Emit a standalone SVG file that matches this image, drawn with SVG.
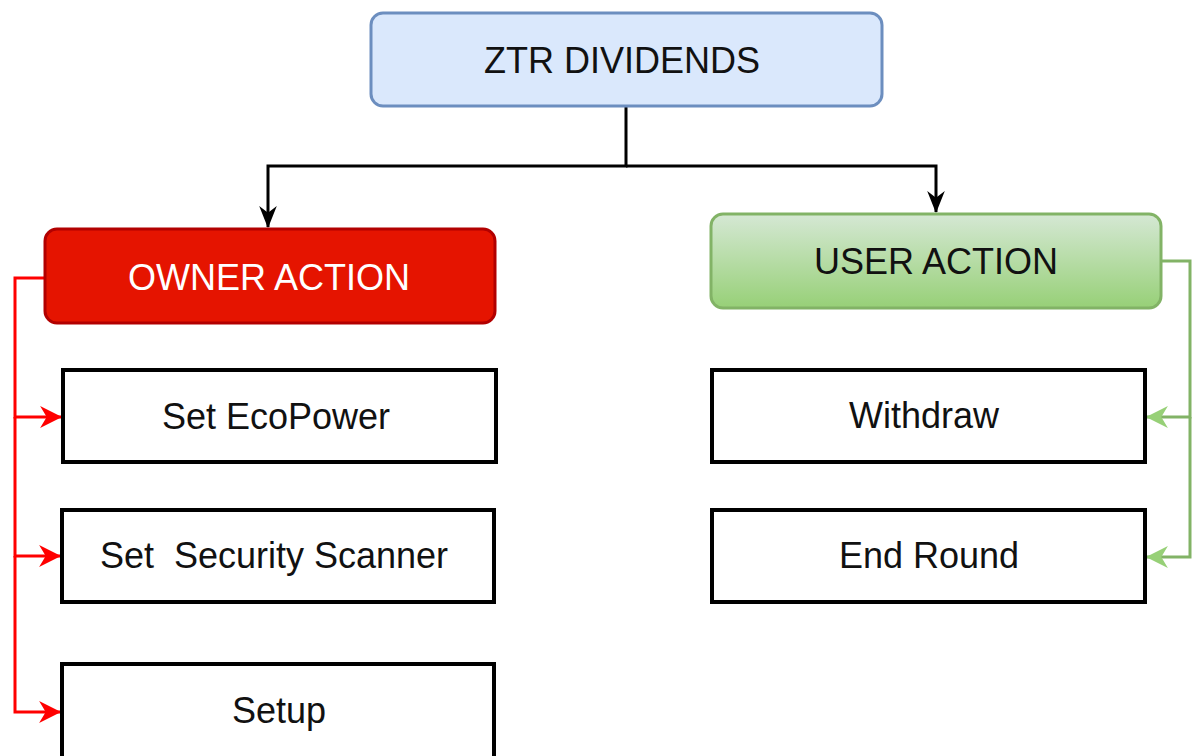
<svg xmlns="http://www.w3.org/2000/svg" width="1202" height="756" viewBox="0 0 1202 756">
<style>
text{font-family:"Liberation Sans",Arial,sans-serif;font-size:36px;text-anchor:middle;fill:#111}
.box{fill:#fff;stroke:#000;stroke-width:4}
.c{fill:none;stroke-width:3}
</style>
<defs>
<linearGradient id="g" x1="0" y1="0" x2="0" y2="1"><stop offset="0" stop-color="#d5e8d4"/><stop offset="1" stop-color="#97d077"/></linearGradient>
<marker id="ar" viewBox="0 0 10 10" refX="9.5" refY="5" markerWidth="22" markerHeight="22" orient="auto" markerUnits="userSpaceOnUse"><path d="M0,0 L10,5 L0,10 L3,5z" fill="#ff0000"/></marker>
<marker id="ag" viewBox="0 0 10 10" refX="9.5" refY="5" markerWidth="22" markerHeight="22" orient="auto" markerUnits="userSpaceOnUse"><path d="M0,0 L10,5 L0,10 L3,5z" fill="#97d077"/></marker>
<marker id="ak" viewBox="0 0 10 10" refX="9.5" refY="5" markerWidth="22" markerHeight="22" orient="auto" markerUnits="userSpaceOnUse"><path d="M0,1 L10,5 L0,9 L3,5z" fill="#000"/></marker>
</defs>
<g id="connectors">
<path class="c" stroke="#000" d="M626,106 V166 H268 V227" marker-end="url(#ak)"/>
<path class="c" stroke="#000" d="M626,166 H936 V212" marker-end="url(#ak)"/>
<path class="c" stroke="#ff0000" d="M45,278 H15 V417 H61" marker-end="url(#ar)"/>
<path class="c" stroke="#ff0000" d="M15,417 V556 H60" marker-end="url(#ar)"/>
<path class="c" stroke="#ff0000" d="M15,556 V712 H60" marker-end="url(#ar)"/>
<path class="c" stroke="#82b366" d="M1161,261 H1190 V417 H1147" marker-end="url(#ag)"/>
<path class="c" stroke="#82b366" d="M1190,417 V557 H1147" marker-end="url(#ag)"/>
</g>
<g id="ztr"><rect x="371" y="13" width="511" height="93" rx="12" fill="#dae8fc" stroke="#6c8ebf" stroke-width="3"/><text x="622" y="73">ZTR DIVIDENDS</text></g>
<g id="owner"><rect x="45" y="229" width="450" height="94" rx="12" fill="#e51400" stroke="#b20000" stroke-width="3"/><text x="269" y="290" style="fill:#fff">OWNER ACTION</text></g>
<g id="user"><rect x="711" y="214" width="450" height="94" rx="12" fill="url(#g)" stroke="#82b366" stroke-width="3"/><text x="936" y="274">USER ACTION</text></g>
<g id="ecopower"><rect class="box" x="63" y="370" width="433" height="92"/><text x="276" y="429">Set EcoPower</text></g>
<g id="scanner"><rect class="box" x="62" y="510" width="432" height="92"/><text x="274" y="568" xml:space="preserve">Set  Security Scanner</text></g>
<g id="setup"><rect class="box" x="62" y="664" width="432" height="96"/><text x="279" y="723">Setup</text></g>
<g id="withdraw"><rect class="box" x="712" y="370" width="433" height="92"/><text x="924" y="428">Withdraw</text></g>
<g id="endround"><rect class="box" x="712" y="510" width="433" height="92"/><text x="929" y="568">End Round</text></g>
</svg>
